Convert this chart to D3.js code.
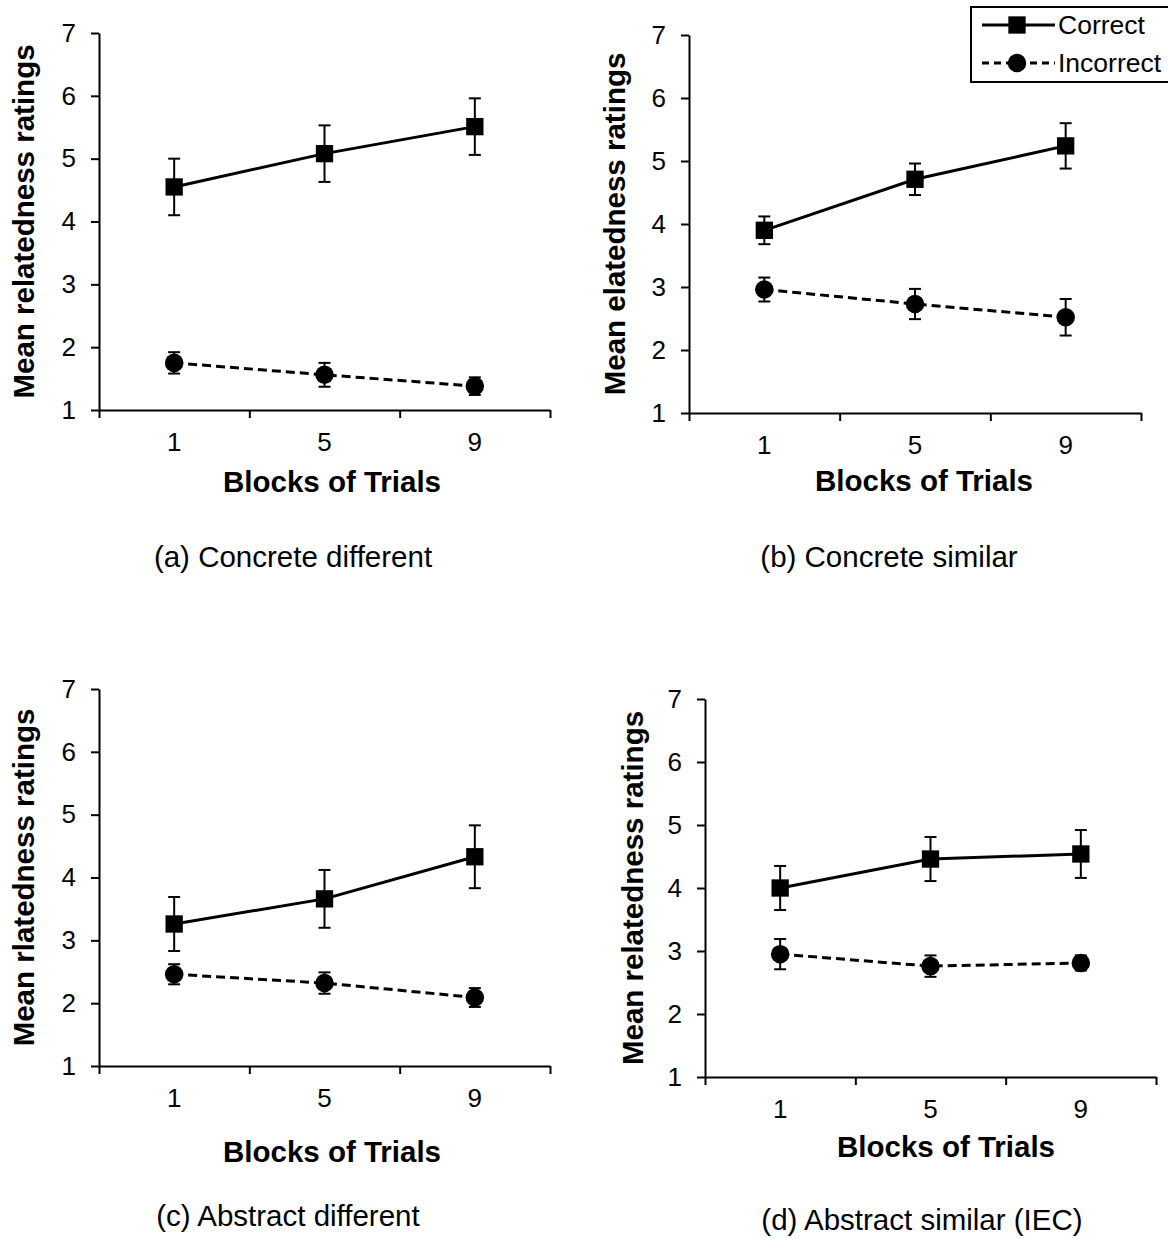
<!DOCTYPE html>
<html>
<head>
<meta charset="utf-8">
<script src="https://cdn.jsdelivr.net/npm/d3@7"></script>
<style>
    body { margin: 0; background: #fff; }
    svg { display: block; font-family: "Liberation Sans", Arial, sans-serif; }
</style>
</head>
<body>
<svg id="vis" width="1168" height="1239"></svg>
<script>
// blocks of trials on the x-axis
const BLOCKS = ["1", "5", "9"];
const Y_TICKS = [1, 2, 3, 4, 5, 6, 7];

// (a) concrete different
const A_CORRECT = [4.55, 5.08, 5.51];
const A_CORRECT_ERR = [0.45, 0.45, 0.45];
const A_INCORRECT = [1.75, 1.56, 1.38];
const A_INCORRECT_ERR = [0.17, 0.19, 0.14];

// (b) concrete similar
const B_CORRECT = [3.90, 4.71, 5.24];
const B_CORRECT_ERR = [0.22, 0.25, 0.36];
const B_INCORRECT = [2.96, 2.73, 2.52];
const B_INCORRECT_ERR = [0.19, 0.24, 0.29];

// (c) abstract different
const C_CORRECT = [3.26, 3.66, 4.33];
const C_CORRECT_ERR = [0.43, 0.46, 0.50];
const C_INCORRECT = [2.46, 2.32, 2.09];
const C_INCORRECT_ERR = [0.16, 0.17, 0.15];

// (d) abstract similar (IEC)
const D_CORRECT = [4.00, 4.46, 4.54];
const D_CORRECT_ERR = [0.35, 0.35, 0.38];
const D_INCORRECT = [2.95, 2.76, 2.81];
const D_INCORRECT_ERR = [0.24, 0.17, 0.12];

const CAPTIONS = ["(a) Concrete different", "(b) Concrete similar", "(c) Abstract different", "(d) Abstract similar (IEC)"];
const Y_TITLES = ["Mean relatedness ratings", "Mean elatedness ratings", "Mean rlatedness ratings", "Mean relatedness ratings"];
const X_TITLE = "Blocks of Trials";
const SERIES_NAMES = ["Correct", "Incorrect"];

// where each panel sits on the page
const LAYOUT = [
    {left: 99,  right: 550,  top: 33,  bottom: 410,  yTitleX: 24,  xTitleX: 332, xTitleY: 482,  capX: 293, capY: 557},
    {left: 689, right: 1141, top: 35,  bottom: 413,  yTitleX: 615, xTitleX: 924, xTitleY: 481,  capX: 889, capY: 557},
    {left: 99,  right: 550,  top: 689, bottom: 1066, yTitleX: 24,  xTitleX: 332, xTitleY: 1152, capX: 288, capY: 1216},
    {left: 705, right: 1156, top: 699, bottom: 1077, yTitleX: 633, xTitleX: 946, xTitleY: 1147, capX: 922, capY: 1220}
];

const TICK_FONT = 26;
const TITLE_FONT = 29.5;
const CAPTION_FONT = 29.5;
const LEGEND_FONT = 26.5;

var svg = d3.select("#vis");

function drawPanel(i, correct, correctErr, incorrect, incorrectErr){
    var L = LAYOUT[i];
    var g = svg.append("g");

    var x = d3.scaleBand().domain(BLOCKS).range([L.left, L.right]);
    var xEdges = d3.scaleLinear().domain([0, BLOCKS.length]).range([L.left, L.right]);
    var y = d3.scaleLinear().domain([1, 7]).range([L.bottom, L.top]);

    // x-axis line with ticks between the blocks
    var xAxis = g.append("g")
        .attr("transform", `translate(0, ${L.bottom})`)
        .call(d3.axisBottom(xEdges).tickValues(d3.range(BLOCKS.length + 1)).tickFormat("").tickSize(8).tickSizeOuter(0));
    // block labels centred in each band
    var xLabels = g.append("g")
        .attr("transform", `translate(0, ${L.bottom})`)
        .call(d3.axisBottom(x).tickSize(0).tickPadding(23));
    xLabels.select(".domain").remove();

    var yAxis = g.append("g")
        .attr("transform", `translate(${L.left}, 0)`)
        .call(d3.axisLeft(y).tickValues(Y_TICKS).tickFormat(d3.format("d")).tickSize(8).tickSizeOuter(0).tickPadding(15));

    [xAxis, yAxis].forEach(function(a){
        a.selectAll("path, line").attr("stroke", "#000").attr("stroke-width", 2);
    });
    g.selectAll(".tick text")
        .attr("fill", "#000")
        .style("font-size", TICK_FONT + "px")
        .style("font-family", '"Liberation Sans", Arial, sans-serif');

    // titles
    g.append("text")
        .attr("transform", `translate(${L.yTitleX}, ${(L.top + L.bottom) / 2}) rotate(-90)`)
        .attr("dy", "0.35em")
        .style("text-anchor", "middle")
        .style("font-weight", "bold")
        .style("font-size", TITLE_FONT + "px")
        .text(Y_TITLES[i]);
    g.append("text")
        .attr("x", L.xTitleX)
        .attr("y", L.xTitleY)
        .attr("dy", "0.35em")
        .style("text-anchor", "middle")
        .style("font-weight", "bold")
        .style("font-size", TITLE_FONT + "px")
        .text(X_TITLE);
    g.append("text")
        .attr("x", L.capX)
        .attr("y", L.capY)
        .attr("dy", "0.35em")
        .style("text-anchor", "middle")
        .style("font-size", CAPTION_FONT + "px")
        .text(CAPTIONS[i]);

    drawSeries(g, x, y, correct, correctErr, false);
    drawSeries(g, x, y, incorrect, incorrectErr, true);
}

function drawSeries(g, x, y, means, errs, dashed){
    var pts = BLOCKS.map(function(b, k){
        return {cx: x(b) + x.bandwidth() / 2, m: means[k], e: errs[k]};
    });

    // error bars
    var bars = g.append("g").attr("stroke", "#000").attr("stroke-width", 2);
    pts.forEach(function(p){
        bars.append("line").attr("x1", p.cx).attr("x2", p.cx).attr("y1", y(p.m - p.e)).attr("y2", y(p.m + p.e));
        bars.append("line").attr("x1", p.cx - 6).attr("x2", p.cx + 6).attr("y1", y(p.m + p.e)).attr("y2", y(p.m + p.e));
        bars.append("line").attr("x1", p.cx - 6).attr("x2", p.cx + 6).attr("y1", y(p.m - p.e)).attr("y2", y(p.m - p.e));
    });

    var line = d3.line().x(function(p){ return p.cx; }).y(function(p){ return y(p.m); });
    g.append("path")
        .datum(pts)
        .attr("d", line)
        .attr("fill", "none")
        .attr("stroke", "#000")
        .attr("stroke-width", 3)
        .attr("stroke-dasharray", dashed ? "9,5" : null);

    var sym = d3.symbol().type(dashed ? d3.symbolCircle : d3.symbolSquare).size(dashed ? 270 : 300);
    g.selectAll(null)
        .data(pts)
        .enter()
        .append("path")
        .attr("d", sym)
        .attr("transform", function(p){ return `translate(${p.cx}, ${y(p.m)})`; })
        .attr("fill", "#000");
}

function drawLegend(){
    var lg = svg.append("g");
    lg.append("rect")
        .attr("x", 971).attr("y", 7)
        .attr("width", 220).attr("height", 75)
        .attr("fill", "#fff")
        .attr("stroke", "#000")
        .attr("stroke-width", 2);

    var rows = [25, 63];
    SERIES_NAMES.forEach(function(name, k){
        var dashed = k == 1;
        lg.append("line")
            .attr("x1", 982).attr("x2", 1055)
            .attr("y1", rows[k]).attr("y2", rows[k])
            .attr("stroke", "#000")
            .attr("stroke-width", 3)
            .attr("stroke-dasharray", dashed ? "7,5" : null);
        lg.append("path")
            .attr("d", d3.symbol().type(dashed ? d3.symbolCircle : d3.symbolSquare).size(dashed ? 270 : 300))
            .attr("transform", `translate(1017, ${rows[k]})`)
            .attr("fill", "#000");
        lg.append("text")
            .attr("x", 1058)
            .attr("y", rows[k])
            .attr("dy", "0.35em")
            .style("font-size", LEGEND_FONT + "px")
            .text(name);
    });
}

drawPanel(0, A_CORRECT, A_CORRECT_ERR, A_INCORRECT, A_INCORRECT_ERR);
drawPanel(1, B_CORRECT, B_CORRECT_ERR, B_INCORRECT, B_INCORRECT_ERR);
drawPanel(2, C_CORRECT, C_CORRECT_ERR, C_INCORRECT, C_INCORRECT_ERR);
drawPanel(3, D_CORRECT, D_CORRECT_ERR, D_INCORRECT, D_INCORRECT_ERR);
drawLegend();
</script>
</body>
</html>
